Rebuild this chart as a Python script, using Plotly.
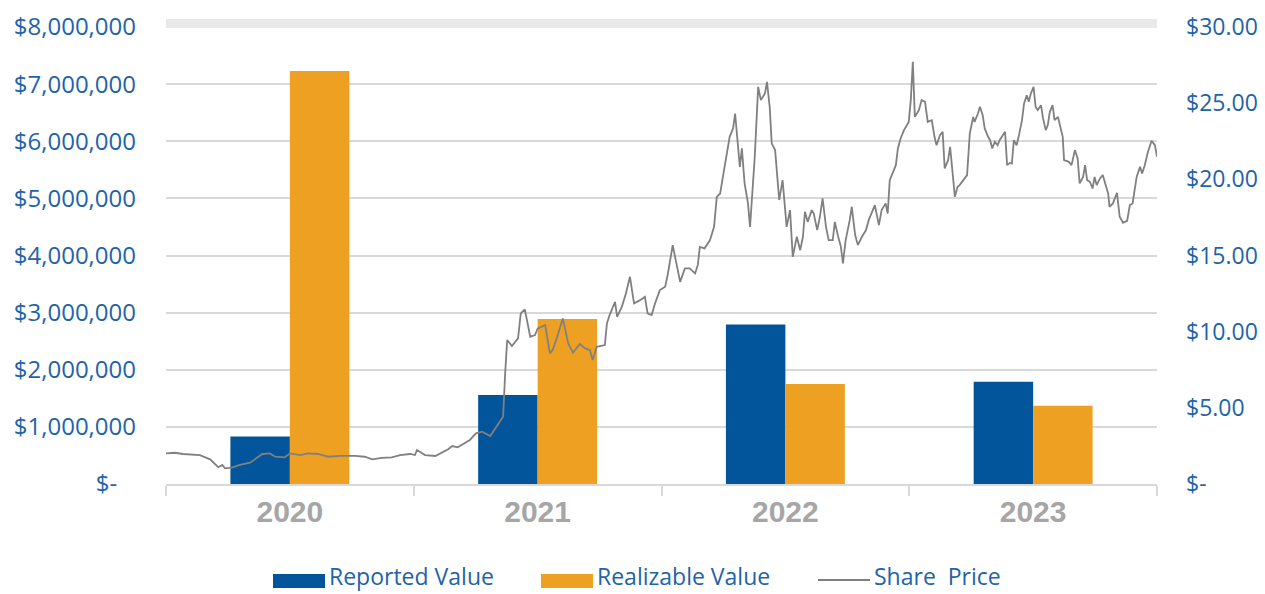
import plotly.graph_objects as go

# ---------------- data ----------------
categories = ["2020", "2021", "2022", "2023"]
reported_value = [830000, 1560000, 2790000, 1790000]
realizable_value = [7230000, 2890000, 1750000, 1370000]

# share price: days since 2020-01-01 and closing price ($)
price_day = [
    0, 13, 25, 35, 50, 65, 77, 83, 87, 97, 109, 124, 131, 142, 153, 161, 175, 183, 198, 209,
    224, 239, 256, 279, 293, 304, 318, 333, 345, 360, 367, 370, 382, 397,
    416, 422, 430, 441, 448, 457, 466, 478, 489, 497, 500, 503, 510, 519, 523, 529, 537, 544,
    548, 559, 566, 570, 576, 585, 593, 600, 610, 618, 625, 629, 635, 647,
    650, 654, 662, 665, 672, 678, 684, 690, 699, 706, 710, 716, 721, 728, 736, 740, 747, 753,
    758, 765, 772, 780, 784, 787, 794, 802, 808, 812, 817, 821, 827, 831, 836, 839, 846, 849,
    853, 858, 861, 868, 873, 877, 883, 886, 890, 893, 898, 901, 904,
    909, 915, 920, 924, 930, 935, 939, 942, 946, 952, 955, 960, 964, 968, 973, 977, 983, 986,
    991, 995, 998, 1002, 1008, 1011, 1016, 1020, 1026, 1032, 1036, 1041, 1045, 1051, 1055,
    1061, 1064, 1067, 1072, 1076, 1079, 1083, 1088, 1095, 1098, 1101, 1104, 1110, 1114, 1119,
    1123, 1129, 1133, 1136, 1141, 1145, 1148, 1153, 1156, 1160, 1163, 1167,
    1170, 1181, 1185, 1190, 1192, 1197, 1200, 1204, 1207, 1212, 1215, 1218, 1222, 1226, 1229,
    1237, 1240, 1244, 1247, 1250, 1254, 1257, 1262, 1265, 1269, 1272, 1275, 1279, 1282, 1285,
    1290, 1293, 1297, 1300, 1303, 1307, 1310, 1315, 1319, 1322, 1324, 1331, 1335, 1340, 1344,
    1347, 1352, 1355, 1358, 1362, 1366, 1369, 1372, 1377, 1381, 1384, 1389, 1391, 1396, 1402,
    1406, 1411, 1417, 1421, 1425, 1431, 1436, 1439, 1443, 1447, 1453, 1458, 1461,
]
share_price = [
    2.01, 2.05, 1.97, 1.95, 1.90, 1.62, 1.10, 1.25, 1.03, 1.07, 1.25, 1.40, 1.64, 1.97, 2.01, 1.79, 1.75, 2.01, 1.90, 2.01,
    1.97, 1.79, 1.84, 1.84, 1.79, 1.62, 1.71, 1.75, 1.90, 1.97, 1.90, 2.23, 1.90, 1.84,
    2.28, 2.49, 2.41, 2.67, 2.89, 3.33, 3.43, 3.15, 3.87, 4.42, 7.26, 9.45, 9.06, 9.56, 11.20, 11.46, 9.67, 9.78,
    10.22, 10.43, 8.58, 8.79, 9.56, 10.87, 9.23, 8.62, 9.19, 8.90, 8.79, 8.14, 9.01, 9.12,
    10.54, 11.09, 11.96, 10.98, 11.63, 12.51, 13.60, 11.86, 12.07, 12.29, 11.20, 11.09, 11.86, 12.73, 12.95, 13.82, 15.68, 14.48,
    13.27, 14.15, 14.15, 13.82, 14.37, 15.57, 15.47, 16.01, 16.88, 18.85, 19.07, 20.16, 21.70, 22.79, 23.34, 24.32, 20.82, 22.03,
    19.73, 18.42, 16.88, 21.48, 26.07, 25.20, 25.64, 26.40, 24.76, 22.36, 21.92, 20.16, 18.64,
    19.95, 16.88, 17.98, 14.91, 16.23, 15.35, 16.23, 17.87, 17.21, 17.98, 17.76, 16.67, 17.54, 18.75, 16.88, 16.01, 16.01, 17.21,
    16.23, 15.57, 14.48, 16.01, 17.32, 18.20, 16.34, 15.68, 16.23, 16.67, 17.32, 17.87, 18.31, 16.99, 17.98,
    18.42, 17.76, 19.95, 20.49, 20.93, 22.03, 22.68, 23.23, 23.77, 25.20, 27.71, 24.10, 24.54, 25.20, 25.09,
    23.77, 23.88, 22.79, 22.24, 22.90, 23.12, 20.72, 21.26, 22.13, 20.16, 18.85, 19.51,
    19.62, 20.28, 23.01, 24.10, 23.77, 24.32, 24.76, 24.21, 23.34, 22.79, 22.57, 22.03, 22.46, 22.24, 22.57,
    23.12, 20.93, 21.08, 21.04, 22.57, 22.24, 22.79, 23.88, 24.98, 25.52, 25.09, 25.64, 26.07, 24.76, 24.54,
    24.87, 24.00, 23.23, 23.56, 24.43, 24.87, 23.88, 24.10, 23.45, 22.79, 21.26, 21.15, 20.93, 21.92, 21.37,
    19.73, 20.16, 20.93, 19.95, 19.84, 19.40, 20.16, 19.62, 20.06, 20.28, 19.84, 19.07, 18.20, 18.42, 19.11,
    17.54, 17.15, 17.28, 18.31, 18.42, 20.16, 20.82, 20.39, 20.93, 21.70, 22.53, 22.24, 21.48,
]

left_tickvals = [0, 1000000, 2000000, 3000000, 4000000, 5000000, 6000000, 7000000, 8000000]
left_ticktext = ["$-\u00a0\u00a0\u00a0", "$1,000,000", "$2,000,000", "$3,000,000", "$4,000,000",
                 "$5,000,000", "$6,000,000", "$7,000,000", "$8,000,000"]
right_tickvals = [0, 5, 10, 15, 20, 25, 30]
right_ticktext = ["$-", "$5.00", "$10.00", "$15.00", "$20.00", "$25.00", "$30.00"]

legend_names = ["Reported Value", "Realizable Value", "Share\u00a0 Price"]

# ---------------- style ----------------
BLUE = "#02559b"
ORANGE = "#eea023"
GREY_LINE = "#808080"
GRID = "#d9d9d9"
LABEL_BLUE = "#1f63a8"
FONT = "Open Sans"

# the page body adds an 8 px offset; size the figure so it ends at the window edge
OFF = 8
W, H = 1265 - OFF, 594 - OFF
ML, MT = 166 - OFF, 27 - OFF
MR = W - (1157 - OFF)
MB = H - (484 - OFF)
PW, PH = W - ML - MR, H - MT - MB


def px_x(px):  # window pixel -> paper fraction
    return (px - OFF - ML) / PW


def px_y(py):
    return (H - MB - (py - OFF)) / PH


fig = go.Figure()
fig.add_trace(go.Bar(name=legend_names[0], x=categories, y=reported_value,
                     marker=dict(color=BLUE, line=dict(width=0))))
fig.add_trace(go.Bar(name=legend_names[1], x=categories, y=realizable_value,
                     marker=dict(color=ORANGE, line=dict(width=0))))
fig.add_trace(go.Scatter(name=legend_names[2], x=price_day, y=share_price, mode="lines",
                         line=dict(color=GREY_LINE, width=1.8), xaxis="x2", yaxis="y2"))

fig.update_layout(
    width=W, height=H,
    margin=dict(l=ML, r=MR, t=MT, b=MB, autoexpand=False),
    paper_bgcolor="white", plot_bgcolor="white",
    barmode="group", bargap=0.52, bargroupgap=0,
    font=dict(family=FONT, color=LABEL_BLUE, size=22),
    showlegend=False,
    xaxis=dict(
        type="category", showgrid=False, showline=True, linecolor=GRID, linewidth=2,
        ticks="outside", tickson="boundaries", ticklen=10, tickwidth=2, tickcolor=GRID,
        tickfont=dict(family="Liberation Sans", size=30, color="#a6a6a6", weight="bold"),
        ticklabelstandoff=0, automargin=False,
    ),
    xaxis2=dict(overlaying="x", range=[0, 1461], visible=False, showgrid=False),
    yaxis=dict(
        range=[0, 8000000], tickvals=left_tickvals, ticktext=left_ticktext,
        showgrid=True, gridcolor=GRID, gridwidth=2, zeroline=False, showline=False,
        ticks="", ticklabelstandoff=29, automargin=False,
        tickfont=dict(family=FONT, size=24, color=LABEL_BLUE),
    ),
    yaxis2=dict(
        overlaying="y", side="right", anchor="x", range=[0, 30],
        tickvals=right_tickvals, ticktext=right_ticktext,
        showgrid=False, zeroline=False, showline=False, ticks="", ticklabelstandoff=28,
        automargin=False, tickfont=dict(family=FONT, size=23, color=LABEL_BLUE),
    ),
)

# light hatched band above the top gridline
fig.add_shape(type="rect", xref="paper", yref="paper", x0=0, x1=1, y0=px_y(28), y1=px_y(19),
              fillcolor="#e9e9e9", line=dict(width=0), layer="below")

# custom legend (wide swatches as in the original)
leg_y = 578
fig.add_shape(type="rect", xref="paper", yref="paper", x0=px_x(273), x1=px_x(325),
              y0=px_y(588), y1=px_y(574), fillcolor=BLUE, line=dict(width=0))
fig.add_shape(type="rect", xref="paper", yref="paper", x0=px_x(541), x1=px_x(593),
              y0=px_y(588), y1=px_y(574), fillcolor=ORANGE, line=dict(width=0))
fig.add_shape(type="line", xref="paper", yref="paper", x0=px_x(818), x1=px_x(870),
              y0=px_y(leg_y + 2), y1=px_y(leg_y + 2), line=dict(color=GREY_LINE, width=2))
for name, lx in zip(legend_names, [330, 598, 875]):
    fig.add_annotation(text=name, xref="paper", yref="paper", x=px_x(lx), y=px_y(593),
                       xanchor="left", yanchor="bottom", showarrow=False, xshift=-2,
                       borderpad=0, font=dict(family=FONT, size=23, color=LABEL_BLUE))

fig.write_html("out.html")
